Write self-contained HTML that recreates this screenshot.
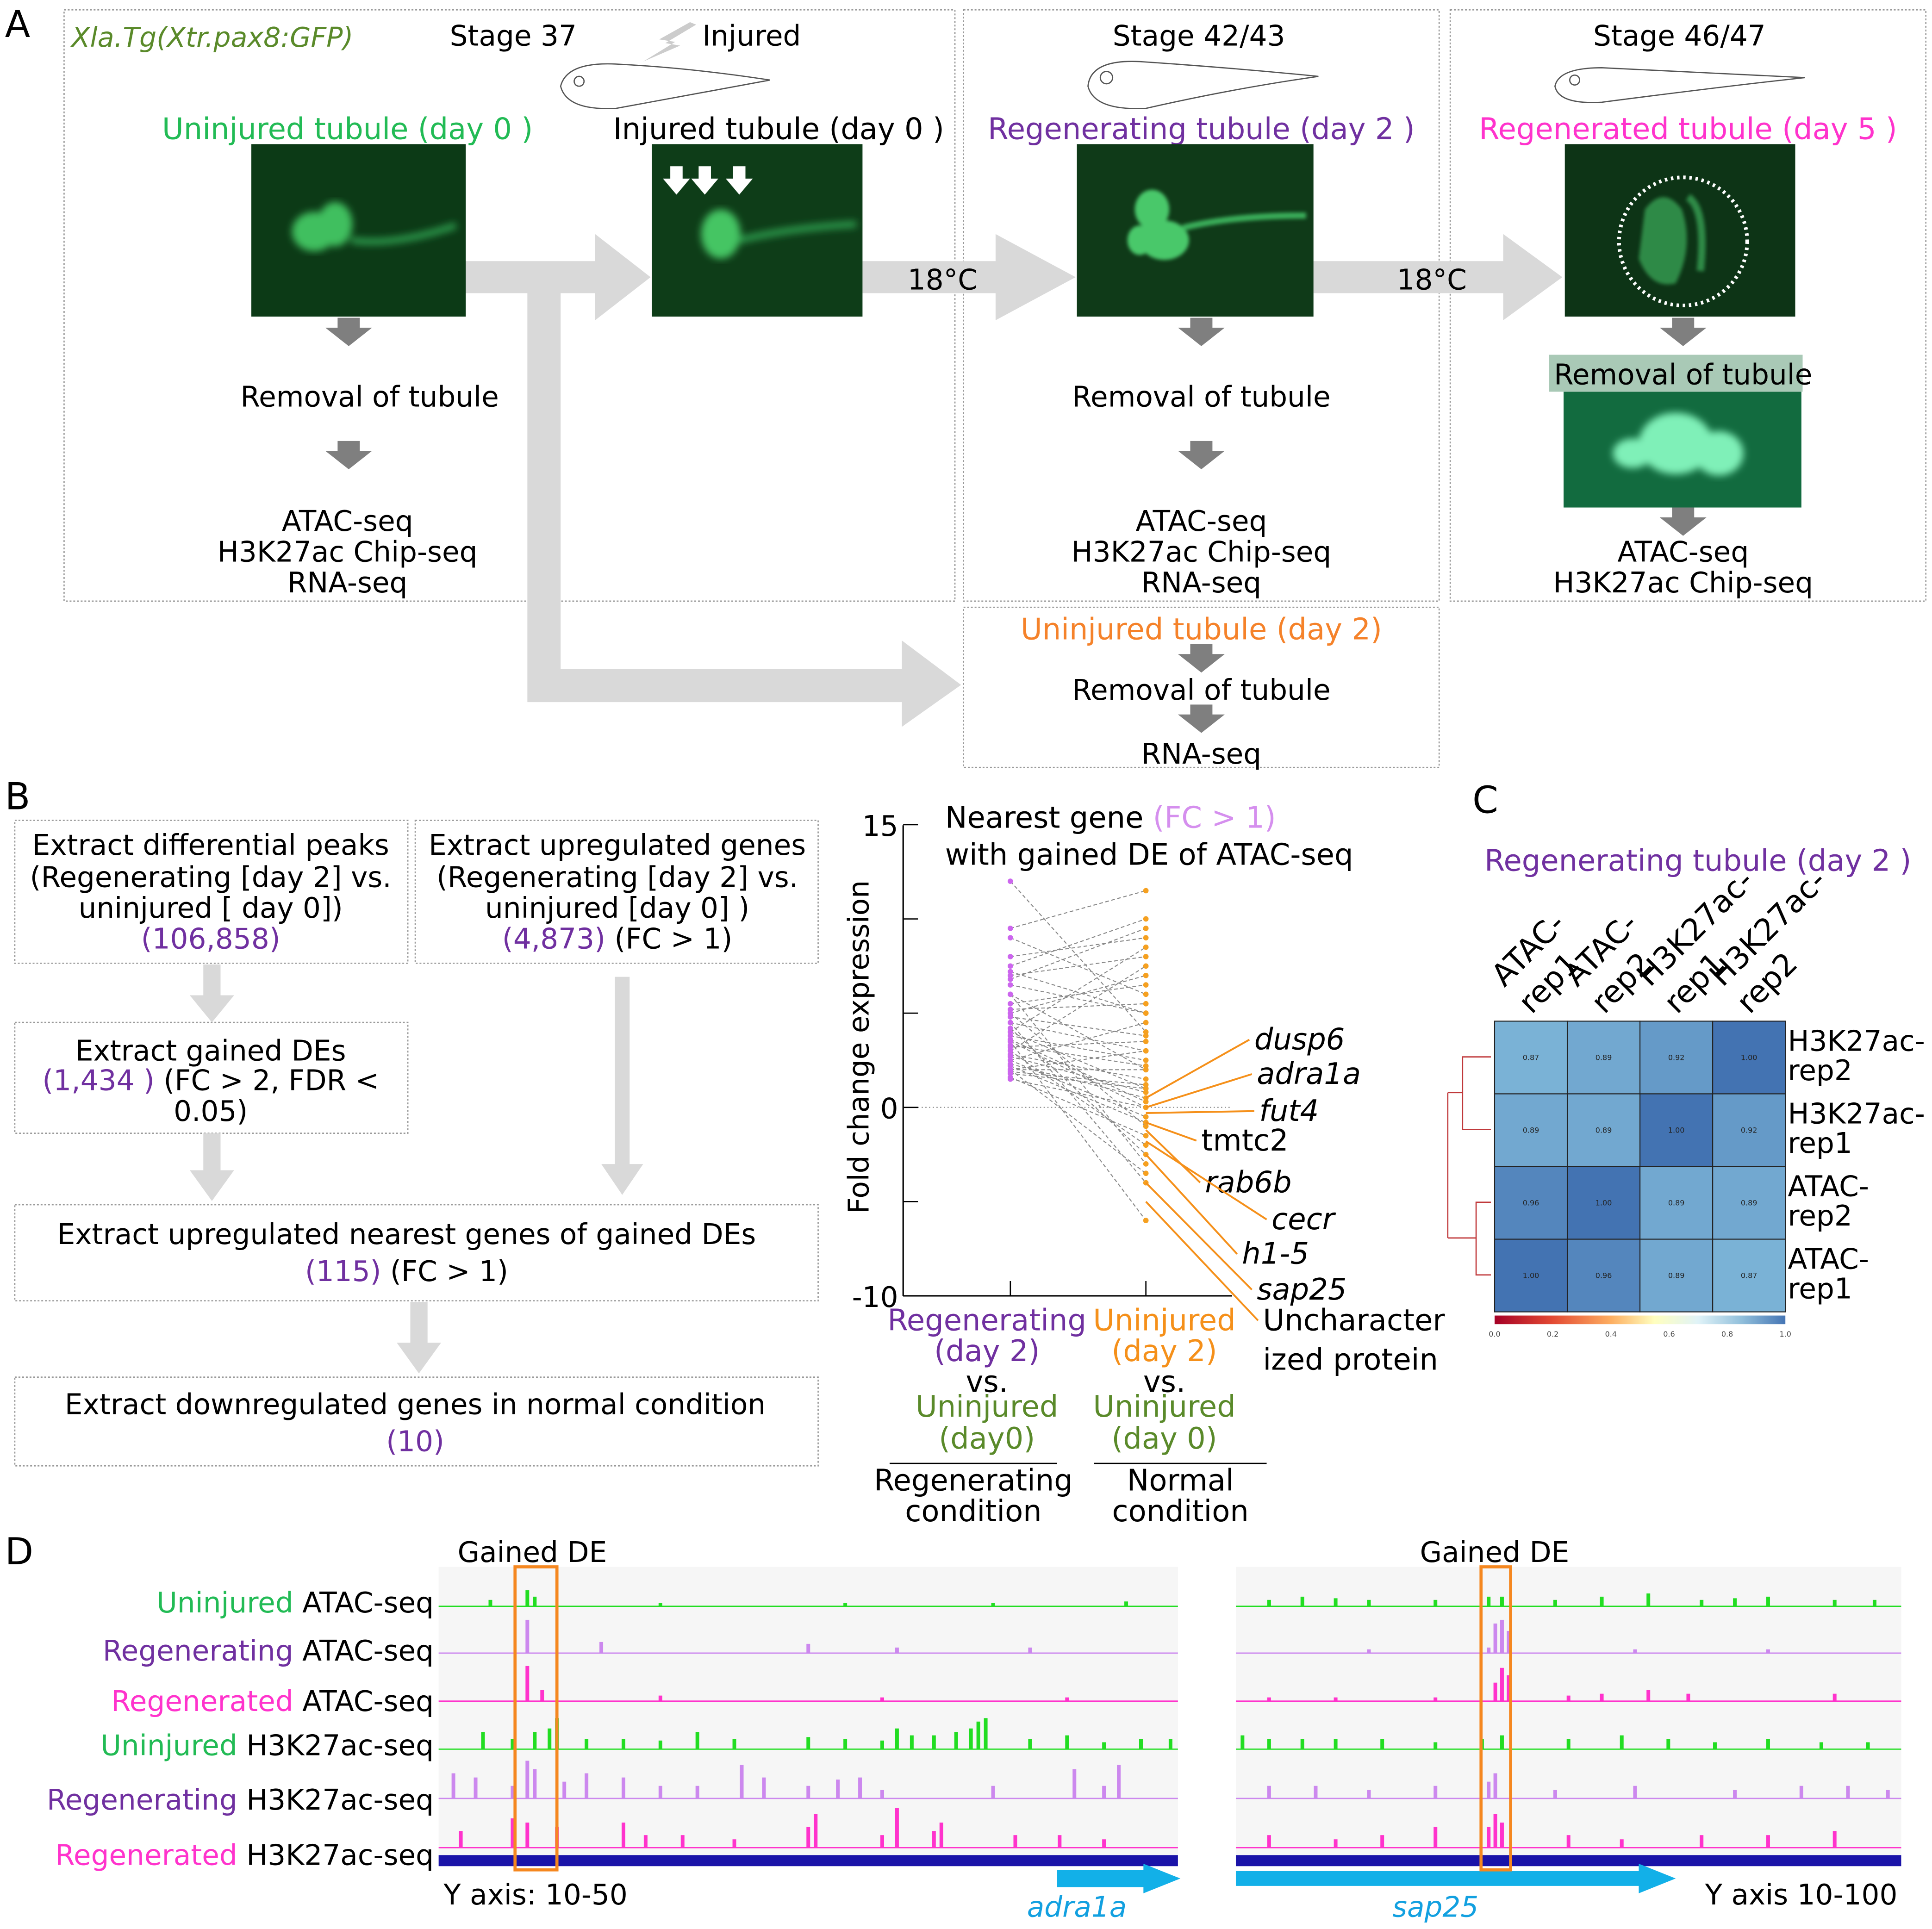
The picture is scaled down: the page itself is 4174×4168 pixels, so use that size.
<!DOCTYPE html>
<html><head><meta charset="utf-8"><style>
html,body{margin:0;padding:0;background:#fff;}
svg{display:block;font-family:"DejaVu Sans","Liberation Sans",sans-serif;}
</style></head><body>
<svg id="fig" width="4174" height="4168" viewBox="0 0 1568 1566" preserveAspectRatio="none" xmlns="http://www.w3.org/2000/svg">
<defs>
<filter id="blur2"><feGaussianBlur stdDeviation="3"/></filter>
<filter id="blur1"><feGaussianBlur stdDeviation="1.5"/></filter>
<linearGradient id="cbar" x1="0" x2="1">
<stop offset="0" stop-color="#a50026"/><stop offset="0.2" stop-color="#e34a33"/><stop offset="0.4" stop-color="#fdae61"/><stop offset="0.55" stop-color="#ffffbf"/><stop offset="0.7" stop-color="#e0f3f8"/><stop offset="0.85" stop-color="#91bfdb"/><stop offset="1" stop-color="#4575b4"/>
</linearGradient>
</defs>

<!-- PANEL A -->
<g>
<text x="4" y="30" font-size="30">A</text>
<g fill="none" stroke="#999" stroke-dasharray="1.5,1.5" stroke-width="1">
<rect x="52" y="8" width="723" height="480"/>
<rect x="782" y="8" width="386" height="480"/>
<rect x="1177" y="8" width="386" height="480"/>
<rect x="782" y="493" width="386" height="130"/>
</g>
<g fill="#d9d9d9">
<polygon points="378,212 483,212 483,190 528,225 483,260 483,238 378,238"/>
<polygon points="700,212 808,212 808,190 873,225 808,260 808,238 700,238"/>
<polygon points="1066,212 1220,212 1220,190 1268,225 1220,260 1220,238 1066,238"/>
<polygon points="428,225 455,225 455,543 732,543 732,520 780,556 732,590 732,570 428,570"/>
</g>
<text x="58" y="38" font-size="22" font-style="italic" fill="#5a8a2a">Xla.Tg(Xtr.pax8:GFP)</text>
<text x="365" y="37" font-size="23">Stage 37</text>
<text x="570" y="37" font-size="23">Injured</text>
<polygon points="560,18 535,32 548,34 522,50 552,37 540,35 565,20" fill="#ccc"/>
<text x="903" y="37" font-size="23">Stage 42/43</text>
<text x="1293" y="37" font-size="23">Stage 46/47</text>
<g fill="none" stroke="#555" stroke-width="1">
<path d="M455,70 Q460,50 500,52 Q560,55 625,65 Q570,75 500,88 Q460,90 455,70Z"/>
<circle cx="470" cy="66" r="4"/>
<path d="M883,70 Q885,48 925,50 Q1000,55 1070,62 Q1000,72 930,88 Q888,90 883,70Z"/>
<circle cx="898" cy="63" r="5"/>
<path d="M1262,70 Q1265,55 1300,55 Q1400,60 1465,63 Q1400,70 1300,83 Q1265,85 1262,70Z"/>
<circle cx="1278" cy="65" r="4"/>
</g>
<text x="282" y="113" font-size="24" fill="#22bb55" text-anchor="middle">Uninjured tubule (day 0 )</text>
<text x="632" y="113" font-size="24" text-anchor="middle">Injured tubule (day 0 )</text>
<text x="975" y="113" font-size="24" fill="#7030a0" text-anchor="middle">Regenerating tubule (day 2 )</text>
<text x="1370" y="113" font-size="24" fill="#ff33cc" text-anchor="middle">Regenerated tubule (day 5 )</text>
<g>
<rect x="204" y="117" width="174" height="140" fill="#0c3a16"/>
<g filter="url(#blur2)" fill="#3fbf5f"><ellipse cx="255" cy="188" rx="18" ry="16"/><ellipse cx="272" cy="182" rx="14" ry="18"/><path d="M285,195 Q320,200 370,183" stroke="#2f9f4f" stroke-width="5" fill="none"/></g>
</g>
<g>
<rect x="529" y="117" width="171" height="140" fill="#0e3d18"/>
<g filter="url(#blur2)" fill="#45c563"><ellipse cx="585" cy="190" rx="16" ry="20"/><path d="M600,195 Q640,185 695,182" stroke="#2f9f4f" stroke-width="5" fill="none"/></g>
<g fill="#fff"><polygon points="544,135 554,135 554,145 560,145 549,158 538,145 544,145"/><polygon points="567,135 577,135 577,145 583,145 572,158 561,145 567,145"/><polygon points="595,135 605,135 605,145 611,145 600,158 589,145 595,145"/></g>
</g>
<g>
<rect x="874" y="117" width="192" height="140" fill="#0f3a18"/>
<g filter="url(#blur1)" fill="#49c86a"><ellipse cx="935" cy="170" rx="14" ry="16"/><ellipse cx="945" cy="195" rx="20" ry="16"/><ellipse cx="925" cy="195" rx="10" ry="12"/><path d="M960,185 Q1000,175 1060,175" stroke="#3aae5a" stroke-width="5" fill="none"/></g>
</g>
<g>
<rect x="1270" y="117" width="187" height="140" fill="#0d3416"/>
<g filter="url(#blur1)" fill="#2f8a47"><path d="M1335,170 Q1350,150 1365,170 Q1375,200 1360,230 Q1340,235 1330,210Z"/><path d="M1370,160 Q1385,170 1380,220" stroke="#2f8a47" stroke-width="6" fill="none"/></g>
<circle cx="1366" cy="196" r="52" fill="none" stroke="#fff" stroke-width="3" stroke-dasharray="2,3"/>
</g>
<g>
<rect x="1269" y="318" width="193" height="94" fill="#126b3f"/>
<g filter="url(#blur2)" fill="#7ff0b8"><ellipse cx="1360" cy="360" rx="30" ry="25"/><ellipse cx="1395" cy="368" rx="20" ry="18"/><ellipse cx="1325" cy="368" rx="16" ry="12"/></g>
</g>
<g fill="#7f7f7f">
<polygon points="274,258 292,258 292,266 302,266 283,281 264,266 274,266"/>
<polygon points="274,358 292,358 292,366 302,366 283,381 264,366 274,366"/>
<polygon points="966,258 984,258 984,266 994,266 975,281 956,266 966,266"/>
<polygon points="966,358 984,358 984,366 994,366 975,381 956,366 966,366"/>
<polygon points="1357,258 1375,258 1375,266 1385,266 1366,281 1347,266 1357,266"/>
<polygon points="1357,412 1375,412 1375,420 1385,420 1366,435 1347,420 1357,420"/>
<polygon points="966,523 984,523 984,531 994,531 975,546 956,531 966,531"/>
<polygon points="966,572 984,572 984,580 994,580 975,595 956,580 966,580"/>
</g>
<rect x="1257" y="288" width="206" height="30" fill="#a9c9b6"/>
<g font-size="23" text-anchor="middle">
<text x="300" y="330">Removal of tubule</text>
<text x="975" y="330">Removal of tubule</text>
<text x="1366" y="312">Removal of tubule</text>
<text x="282" y="431">ATAC-seq</text><text x="282" y="456">H3K27ac Chip-seq</text><text x="282" y="481">RNA-seq</text>
<text x="975" y="431">ATAC-seq</text><text x="975" y="456">H3K27ac Chip-seq</text><text x="975" y="481">RNA-seq</text>
<text x="1366" y="456">ATAC-seq</text><text x="1366" y="481">H3K27ac Chip-seq</text>
<text x="975" y="519" fill="#f5822a" font-size="24">Uninjured tubule (day 2)</text>
<text x="975" y="568">Removal of tubule</text>
<text x="975" y="620">RNA-seq</text>
<text x="765" y="235">18°C</text>
<text x="1162" y="235">18°C</text>
</g>
</g>

<!-- PANEL B -->
<g>
<text x="4" y="657" font-size="30">B</text>
<g fill="none" stroke="#999" stroke-dasharray="1.5,1.5">
<rect x="12" y="666" width="319" height="116"/>
<rect x="337" y="666" width="327" height="116"/>
<rect x="12" y="830" width="319" height="90"/>
<rect x="12" y="978" width="652" height="78"/>
<rect x="12" y="1118" width="652" height="72"/>
</g>
<g fill="#d9d9d9">
<polygon points="165,783 179,783 179,808 190,808 172,830 154,808 165,808"/>
<polygon points="165,920 179,920 179,950 190,950 172,975 154,950 165,950"/>
<polygon points="499,793 511,793 511,945 522,945 505,970 488,945 499,945"/>
<polygon points="333,1057 347,1057 347,1090 358,1090 340,1115 322,1090 333,1090"/>
</g>
<g font-size="23" text-anchor="middle">
<text x="171" y="694">Extract differential  peaks</text>
<text x="171" y="720">(Regenerating [day 2] vs.</text>
<text x="171" y="745">uninjured [ day 0])</text>
<text x="171" y="770" fill="#7030a0">(106,858)</text>
<text x="501" y="694">Extract upregulated genes</text>
<text x="501" y="720">(Regenerating [day 2] vs.</text>
<text x="501" y="745">uninjured [day 0] )</text>
<text x="501" y="770"><tspan fill="#7030a0">(4,873)</tspan> (FC &gt; 1)</text>
<text x="171" y="861">Extract gained DEs</text>
<text x="171" y="885"><tspan fill="#7030a0">(1,434 )</tspan> (FC &gt; 2, FDR &lt;</text>
<text x="171" y="910">0.05)</text>
<text x="330" y="1010">Extract upregulated nearest  genes of gained  DEs</text>
<text x="330" y="1040"><tspan fill="#7030a0">(115)</tspan> (FC &gt; 1)</text>
<text x="337" y="1148">Extract downregulated genes in normal condition</text>
<text x="337" y="1178" fill="#7030a0">(10)</text>
</g>
<g id="slope"></g>
</g>

<!-- PANEL C -->
<g>
<text x="1195" y="660" font-size="30">C</text>
<text x="1378" y="707" font-size="24" fill="#7030a0" text-anchor="middle">Regenerating tubule (day 2 )</text>
<g id="heat"></g>
</g>

<!-- PANEL D -->
<g>
<text x="4" y="1270" font-size="30">D</text>
<text x="432" y="1268" font-size="23" text-anchor="middle">Gained DE</text>
<text x="1213" y="1268" font-size="23" text-anchor="middle">Gained DE</text>
<rect x="356" y="1272" width="600" height="238" fill="#f6f6f6"/>
<rect x="1003" y="1272" width="540" height="238" fill="#f6f6f6"/>
<g font-size="23" text-anchor="end">
<text x="352" y="1309"><tspan fill="#22bb55">Uninjured</tspan> ATAC-seq</text>
<text x="352" y="1348"><tspan fill="#7030a0">Regenerating</tspan> ATAC-seq</text>
<text x="352" y="1389"><tspan fill="#ff33cc">Regenerated</tspan> ATAC-seq</text>
<text x="352" y="1425"><tspan fill="#22bb55">Uninjured</tspan> H3K27ac-seq</text>
<text x="352" y="1469"><tspan fill="#7030a0">Regenerating</tspan> H3K27ac-seq</text>
<text x="352" y="1514"><tspan fill="#ff33cc">Regenerated</tspan> H3K27ac-seq</text>
</g>
<g id="tracks"></g>
<rect x="356" y="1506" width="600" height="9" fill="#1a13a8"/>
<rect x="1003" y="1506" width="540" height="9" fill="#1a13a8"/>
<polygon points="858,1518 928,1518 928,1513 958,1525 928,1537 928,1532 858,1532" fill="#12b0e8"/>
<polygon points="1003,1519 1330,1519 1330,1513 1360,1525 1330,1537 1330,1531 1003,1531" fill="#12b0e8"/>
<text x="360" y="1546" font-size="23">Y axis: 10-50</text>
<text x="874" y="1556" font-size="23" font-style="italic" fill="#12a0e0" text-anchor="middle">adra1a</text>
<text x="1165" y="1556" font-size="23" font-style="italic" fill="#12a0e0" text-anchor="middle">sap25</text>
<text x="1540" y="1546" font-size="23" text-anchor="end">Y axis 10-100</text>
<rect x="418" y="1272" width="34" height="246" fill="none" stroke="#f5871f" stroke-width="2.5"/>
<rect x="1202" y="1272" width="24" height="246" fill="none" stroke="#f5871f" stroke-width="2.5"/>
</g>
</svg>
<script>
const regenValues=[12,9.5,9,8,7.5,7,6.5,6,6,5.5,5,5,4.5,4.5,4,4,3.8,3.5,3.5,3.2,3,3,2.8,2.5,2.5,2.3,2,2,2,1.8,1.6,1.5,6.8,5.2,4.2,3.3,2.7,2.2,1.9,7.2,4.8,3.6];
const normalValues=[4,11.5,6,9,10,8,5,-3,2,6.5,7,-1,3,-4,8.5,1,2.5,-6,0,3.5,-2,7.5,1.5,4.5,-0.5,0.5,2,-3.5,3,1,-1.5,0,9.5,5.5,-2.5,2.2,0.8,-0.8,1.2,5,3.8,0.3];
const yTicks=[15,10,5,0,-5,-10];
const yTickLabels=["15","","","0","","-10"];
const geneLabels=["dusp6","adra1a","fut4","tmtc2","rab6b","cecr","h1-5","sap25","Uncharacter"];
const geneValues=[0.5,0,-0.3,-0.8,-1.2,-1.8,-2.5,-4,-5];
const heatRows=["H3K27ac-|rep2","H3K27ac-|rep1","ATAC-|rep2","ATAC-|rep1"];
const heatCols=["ATAC-|rep1","ATAC-|rep2","H3K27ac-|rep1","H3K27ac-|rep2"];
const heatValues=[[0.87,0.89,0.92,1.00],[0.89,0.89,1.00,0.92],[0.96,1.00,0.89,0.89],[1.00,0.96,0.89,0.87]];
const cbarTicks=[0,0.2,0.4,0.6,0.8,1.0];
const leftTracks=[
[[0.07,0.2],[0.12,0.5],[0.13,0.3],[0.3,0.1],[0.55,0.1],[0.75,0.1],[0.93,0.15]],
[[0.12,0.9],[0.22,0.3],[0.5,0.25],[0.62,0.15],[0.8,0.15]],
[[0.12,0.95],[0.14,0.3],[0.3,0.15],[0.6,0.1],[0.85,0.1]],
[[0.06,0.5],[0.1,0.3],[0.13,0.5],[0.15,0.6],[0.16,0.9],[0.2,0.3],[0.25,0.3],[0.3,0.25],[0.35,0.5],[0.4,0.3],[0.5,0.35],[0.55,0.3],[0.6,0.25],[0.62,0.6],[0.64,0.4],[0.67,0.4],[0.7,0.5],[0.72,0.6],[0.73,0.8],[0.74,0.9],[0.8,0.3],[0.85,0.4],[0.9,0.2],[0.95,0.3],[0.99,0.3]],
[[0.02,0.6],[0.05,0.5],[0.1,0.3],[0.12,0.9],[0.13,0.7],[0.17,0.4],[0.2,0.6],[0.25,0.5],[0.3,0.3],[0.35,0.3],[0.41,0.8],[0.44,0.5],[0.5,0.3],[0.54,0.45],[0.57,0.5],[0.6,0.2],[0.75,0.3],[0.86,0.7],[0.9,0.3],[0.92,0.8]],
[[0.03,0.4],[0.1,0.7],[0.12,0.6],[0.16,0.5],[0.25,0.6],[0.28,0.3],[0.33,0.3],[0.4,0.2],[0.5,0.5],[0.51,0.8],[0.6,0.3],[0.62,0.95],[0.67,0.4],[0.68,0.6],[0.78,0.3],[0.84,0.3],[0.9,0.2]]];
const rightTracks=[
[[0.05,0.2],[0.1,0.3],[0.15,0.25],[0.2,0.2],[0.3,0.2],[0.38,0.3],[0.4,0.3],[0.48,0.2],[0.55,0.3],[0.62,0.4],[0.7,0.2],[0.75,0.25],[0.8,0.3],[0.9,0.2],[0.96,0.2]],
[[0.2,0.1],[0.38,0.15],[0.39,0.8],[0.4,0.9],[0.41,0.6],[0.6,0.1],[0.8,0.1]],
[[0.05,0.1],[0.15,0.1],[0.3,0.1],[0.39,0.5],[0.4,0.9],[0.41,0.7],[0.5,0.15],[0.55,0.2],[0.62,0.3],[0.68,0.2],[0.9,0.2]],
[[0.01,0.4],[0.05,0.3],[0.1,0.3],[0.15,0.3],[0.22,0.3],[0.3,0.2],[0.37,0.3],[0.4,0.4],[0.5,0.3],[0.58,0.4],[0.65,0.3],[0.72,0.2],[0.8,0.3],[0.88,0.2],[0.95,0.2]],
[[0.05,0.3],[0.12,0.3],[0.2,0.2],[0.3,0.3],[0.38,0.4],[0.39,0.6],[0.48,0.2],[0.6,0.3],[0.75,0.2],[0.85,0.3],[0.92,0.3],[0.98,0.2]],
[[0.05,0.3],[0.15,0.2],[0.22,0.3],[0.3,0.5],[0.38,0.5],[0.39,0.8],[0.4,0.6],[0.5,0.3],[0.58,0.2],[0.7,0.3],[0.8,0.3],[0.9,0.4]]];
const trackColors=["#22dd22","#cc88ee","#ff33cc","#22dd22","#cc88ee","#ff33cc"];

const NS="http://www.w3.org/2000/svg";
function mk(tag,attrs,parent){const e=document.createElementNS(NS,tag);for(const k in attrs)e.setAttribute(k,attrs[k]);parent.appendChild(e);return e;}

(function(){
const g=document.getElementById('slope');
const y=v=>899-v*15.3;
const xL=820,xR=930;
mk('line',{x1:733,y1:670,x2:733,y2:1052,stroke:'#000','stroke-width':1.2},g);
mk('line',{x1:733,y1:1052,x2:1000,y2:1052,stroke:'#000','stroke-width':1.2},g);
mk('line',{x1:733,y1:y(0),x2:1000,y2:y(0),stroke:'#888','stroke-width':0.8,'stroke-dasharray':'1,2'},g);
yTicks.forEach((t,i)=>{
 mk('line',{x1:733,y1:y(t),x2:745,y2:y(t),stroke:'#000'},g);
 if(yTickLabels[i]){const tx=mk('text',{x:729,y:y(t)+9,'font-size':23,'text-anchor':'end'},g);tx.textContent=yTickLabels[i];
 
 }
});
[xL,xR].forEach(x=>mk('line',{x1:x,y1:1040,x2:x,y2:1052,stroke:'#000'},g));
const yt=mk('text',{transform:'translate(705,850) rotate(-90)','font-size':23,'text-anchor':'middle'},g);yt.textContent='Fold change expression';


regenValues.forEach((v,i)=>{
 const l=mk('line',{x1:xL,y1:y(v),x2:xR,y2:y(normalValues[i]),stroke:'#888','stroke-width':0.8,'stroke-dasharray':'3,2'},g);
 
 
 const a=mk('circle',{cx:xL,cy:y(v),r:2.2,fill:'#cc66ee'},g);
 
 
 const b=mk('circle',{cx:xR,cy:y(normalValues[i]),r:2.2,fill:'#f5a020'},g);
 
 
});
const labelY=[852,880,910,934,968,998,1026,1055,1080];
const labelX=[1018,1020,1022,975,978,1032,1008,1020,1025];
geneLabels.forEach((n,i)=>{
 const l=mk('line',{x1:xR,y1:y(geneValues[i]),x2:labelX[i]-4,y2:labelY[i]-8,stroke:'#f5901a','stroke-width':1.5},g);
 
 
 const t=mk('text',{x:labelX[i],y:labelY[i],'font-size':24,'font-style':(n==='tmtc2'||n==='Uncharacter')?'normal':'italic'},g);t.textContent=n;
 
 
});
const t2=mk('text',{x:1025,y:1112,'font-size':24},g);t2.textContent='ized protein';


const tt=mk('text',{x:767,y:672,'font-size':24},g);tt.innerHTML='Nearest gene <tspan fill="#d58fee">(FC &gt; 1)</tspan>';


const tt2=mk('text',{x:767,y:702,'font-size':24},g);tt2.textContent='with gained DE of ATAC-seq';


const xl=[[801,1080,'Regenerating','#7030a0'],[801,1105,'(day 2)','#7030a0'],[801,1130,'vs.','#000'],[801,1150,'Uninjured','#5a8a2a'],[801,1176,'(day0)','#5a8a2a'],
[945,1080,'Uninjured','#f5901a'],[945,1105,'(day 2)','#f5901a'],[945,1130,'vs.','#000'],[945,1150,'Uninjured','#5a8a2a'],[945,1176,'(day 0)','#5a8a2a'],
[790,1210,'Regenerating','#000'],[790,1235,'condition','#000'],[958,1210,'Normal','#000'],[958,1235,'condition','#000']];
xl.forEach(d=>{const t=mk('text',{x:d[0],y:d[1],'font-size':24,'text-anchor':'middle',fill:d[3]},g);t.textContent=d[2];
 
 });
mk('line',{x1:722,y1:1188,x2:858,y2:1188,stroke:'#000'},g);
mk('line',{x1:888,y1:1188,x2:1028,y2:1188,stroke:'#000'},g);
})();

(function(){
const g=document.getElementById('heat');
const x0=1213,y0=829,cw=59,ch=59;
const col=v=>{const t=Math.max(0,Math.min(1,(v-0.87)/0.13));const a=[122,178,214],b=[67,115,178];return 'rgb('+a.map((c,i)=>Math.round(c+(b[i]-c)*t)).join(',')+')';};
heatValues.forEach((row,r)=>row.forEach((v,c)=>{
 const rc=mk('rect',{x:x0+c*cw,y:y0+r*ch,width:cw,height:ch,fill:col(v),stroke:'#222','stroke-width':0.8},g);
 
 
 const t=mk('text',{x:x0+c*cw+cw/2,y:y0+r*ch+ch/2+2,'font-size':6,'text-anchor':'middle',fill:'#222'},g);t.textContent=v.toFixed(2);
}));
heatRows.forEach((n,r)=>{const p=n.split('|');
 const t=mk('text',{x:1451,y:y0+r*ch+24,'font-size':23},g);t.textContent=p[0];
 
 
 const t2=mk('text',{x:1451,y:y0+r*ch+48,'font-size':23},g);t2.textContent=p[1];});
heatCols.forEach((n,c)=>{const p=n.split('|');
 const bx=x0+c*cw;
 const t=mk('text',{transform:'translate('+(bx+8)+',802) rotate(-45)','font-size':25},g);t.textContent=p[0];
 
 
 const t2=mk('text',{transform:'translate('+(bx+30)+',824) rotate(-45)','font-size':25},g);t2.textContent=p[1];});
mk('rect',{x:x0,y:1068,width:4*cw,height:7,fill:'url(#cbar)'},g);
cbarTicks.forEach(t=>{const tx=mk('text',{x:x0+t*4*cw,y:1085,'font-size':6,'text-anchor':'middle',fill:'#444'},g);tx.textContent=t.toFixed(1);});
const den=mk('path',{d:'M1210,858 H1187 V917 H1210 M1187,887 H1175 M1210,976 H1198 V1035 H1210 M1198,1005 H1175 M1175,887 V1005',fill:'none',stroke:'#c0393b','stroke-width':1},g);


})();

(function(){
const g=document.getElementById('tracks');
const base=[1304,1342,1381,1420,1460,1500];
const maxH=[26,30,30,28,34,34];
function draw(tracks,x0,w){
 tracks.forEach((peaks,i)=>{
  const l=mk('line',{x1:x0,y1:base[i],x2:x0+w,y2:base[i],stroke:trackColors[i],'stroke-width':1},g);
  
  
  peaks.forEach(p=>{
   const h=p[1]*maxH[i];const px=x0+p[0]*w;
   const r=mk('rect',{x:px-1.5,y:base[i]-h,width:3,height:h,fill:trackColors[i]},g);
   
   
  });
 });
}
draw(leftTracks,356,600);
draw(rightTracks,1003,540);
})();
</script>
</body></html>
